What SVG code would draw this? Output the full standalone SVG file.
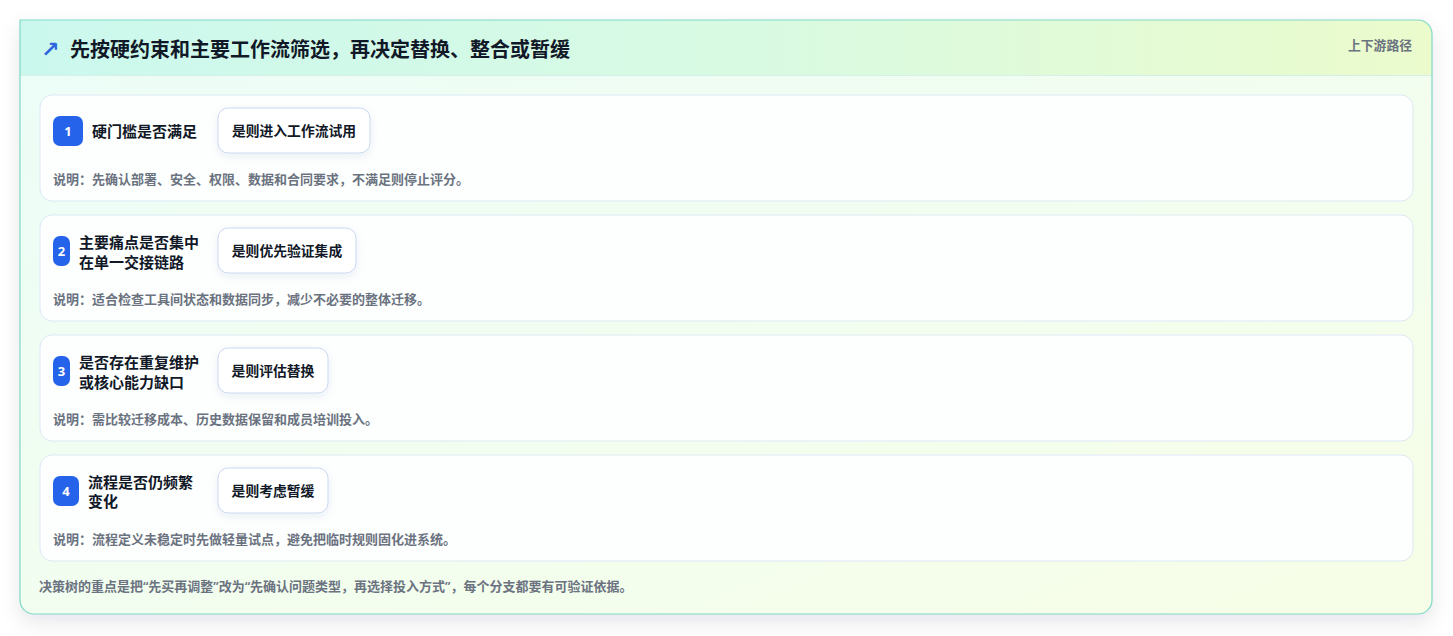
<svg xmlns="http://www.w3.org/2000/svg" width="1453" height="636" viewBox="0 0 1453 636">
  <defs>
    <linearGradient id="cardBg" x1="0" y1="0" x2="1" y2="1">
      <stop offset="0" stop-color="#ecfdf8"/>
      <stop offset="1" stop-color="#f7fee7"/>
    </linearGradient>
    <linearGradient id="headBg" x1="0" y1="0" x2="1" y2="0">
      <stop offset="0" stop-color="#cbf8ee"/>
      <stop offset="0.5" stop-color="#d8fae3"/>
      <stop offset="1" stop-color="#ebfbcc"/>
    </linearGradient>
    <filter id="cardShadow" x="-5%" y="-10%" width="110%" height="125%">
      <feDropShadow dx="0" dy="8" stdDeviation="10" flood-color="#0f172a" flood-opacity="0.10"/>
    </filter>
    <filter id="btnShadow" x="-20%" y="-30%" width="140%" height="170%">
      <feDropShadow dx="0" dy="3" stdDeviation="4" flood-color="#1e3a8a" flood-opacity="0.08"/>
    </filter>
    <clipPath id="cardClip">
      <path d="M20 20 H1418 A14 14 0 0 1 1432 34 V600 A14 14 0 0 1 1418 614 H34 A14 14 0 0 1 20 600 Z"/>
    </clipPath>
  </defs>
  <style>
    .t{font-family:"Noto Sans","Noto Sans CJK SC",sans-serif;}
    .row{fill:#fdfffe;stroke:#dce8f4;stroke-width:1;}
    .badge{fill:#2563eb;}
    .num{fill:#ffffff;font-size:13px;font-weight:700;text-anchor:middle;}
    .lbl{fill:#111827;font-size:15px;font-weight:700;}
    .btn{fill:#ffffff;stroke:#c9d8f0;stroke-width:1;}
    .btxt{fill:#111827;font-size:13.8px;font-weight:700;text-anchor:middle;}
    .desc{fill:#6b7280;font-size:13px;font-weight:600;}
  </style>
  <rect x="0" y="0" width="1453" height="636" fill="#ffffff"/>

  <g id="card">
    <path d="M20 20 H1418 A14 14 0 0 1 1432 34 V600 A14 14 0 0 1 1418 614 H34 A14 14 0 0 1 20 600 Z" fill="url(#cardBg)" filter="url(#cardShadow)"/>
    <rect x="20" y="20" width="1412" height="55" fill="url(#headBg)" clip-path="url(#cardClip)"/>
    <line x1="20" y1="75.5" x2="1432" y2="75.5" stroke="#d3f1e8" stroke-width="1"/>
    <path d="M20 20 H1418 A14 14 0 0 1 1432 34 V600 A14 14 0 0 1 1418 614 H34 A14 14 0 0 1 20 600 Z" fill="none" stroke="#7fd9c6" stroke-width="1.2"/>
  </g>

  <g id="header">
    <text x="41" y="57" font-family="DejaVu Sans, sans-serif" font-size="22" font-weight="700" fill="#2f66dc">↗</text>
    <text class="t" x="70" y="56.5" font-size="20" font-weight="700" fill="#111827">先按硬约束和主要工作流筛选，再决定替换、整合或暂缓</text>
    <text class="t" x="1412" y="49.5" font-size="12.8" font-weight="700" fill="#6b7280" text-anchor="end">上下游路径</text>
  </g>

  <g id="row1">
    <rect class="row" x="40" y="95" width="1373" height="106" rx="12"/>
    <rect class="badge" x="53" y="116" width="30" height="30" rx="7"/>
    <text class="t num" x="68" y="135.5">1</text>
    <text class="t lbl" x="92" y="136.5">硬门槛是否满足</text>
    <rect class="btn" x="218" y="108" width="152" height="45" rx="10" filter="url(#btnShadow)"/>
    <text class="t btxt" x="294" y="136">是则进入工作流试用</text>
    <text class="t desc" x="53" y="183.5">说明：先确认部署、安全、权限、数据和合同要求，不满足则停止评分。</text>
  </g>

  <g id="row2">
    <rect class="row" x="40" y="215" width="1373" height="106" rx="12"/>
    <rect class="badge" x="53" y="236" width="17" height="30" rx="7"/>
    <text class="t num" x="61.5" y="255.5">2</text>
    <text class="t lbl" x="79" y="248">主要痛点是否集中</text>
    <text class="t lbl" x="79" y="267.5">在单一交接链路</text>
    <rect class="btn" x="218" y="228" width="138" height="45" rx="10" filter="url(#btnShadow)"/>
    <text class="t btxt" x="287" y="256">是则优先验证集成</text>
    <text class="t desc" x="53" y="303.5">说明：适合检查工具间状态和数据同步，减少不必要的整体迁移。</text>
  </g>

  <g id="row3">
    <rect class="row" x="40" y="335" width="1373" height="106" rx="12"/>
    <rect class="badge" x="53" y="356" width="17" height="30" rx="7"/>
    <text class="t num" x="61.5" y="375.5">3</text>
    <text class="t lbl" x="79" y="368">是否存在重复维护</text>
    <text class="t lbl" x="79" y="387.5">或核心能力缺口</text>
    <rect class="btn" x="218" y="348" width="110" height="45" rx="10" filter="url(#btnShadow)"/>
    <text class="t btxt" x="273" y="376">是则评估替换</text>
    <text class="t desc" x="53" y="423.5">说明：需比较迁移成本、历史数据保留和成员培训投入。</text>
  </g>

  <g id="row4">
    <rect class="row" x="40" y="455" width="1373" height="106" rx="12"/>
    <rect class="badge" x="53" y="476" width="26" height="30" rx="7"/>
    <text class="t num" x="66" y="495.5">4</text>
    <text class="t lbl" x="88" y="487.5">流程是否仍频繁</text>
    <text class="t lbl" x="88" y="507">变化</text>
    <rect class="btn" x="218" y="468" width="110" height="45" rx="10" filter="url(#btnShadow)"/>
    <text class="t btxt" x="273" y="496">是则考虑暂缓</text>
    <text class="t desc" x="53" y="543.5">说明：流程定义未稳定时先做轻量试点，避免把临时规则固化进系统。</text>
  </g>

  <g id="connectors"></g>

  <g id="footer">
    <text class="t desc" x="39" y="591" font-size="13.2">决策树的重点是把“先买再调整”改为“先确认问题类型，再选择投入方式”，每个分支都要有可验证依据。</text>
  </g>
</svg>
